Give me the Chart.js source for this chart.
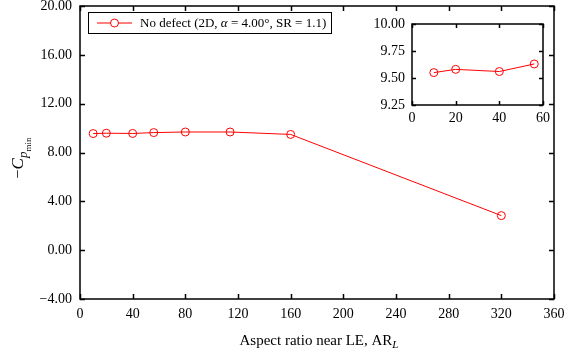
<!DOCTYPE html>
<html>
<head>
<meta charset="utf-8">
<script src="https://cdn.jsdelivr.net/npm/chart.js@4.4.1/dist/chart.umd.min.js"></script>
<style>
html,body{margin:0;padding:0;background:#fff;}
#wrap{position:relative;width:579px;height:354px;}
#main{position:absolute;left:0;top:0;}
#inset{position:absolute;left:368px;top:14px;}
</style>
</head>
<body>
<div id="wrap">
<canvas id="main" width="579" height="354"></canvas>
<canvas id="inset" width="190" height="116"></canvas>
</div>
<script>
// ---- data ----
const aspectRatio = [10, 20, 40, 56, 80, 114, 160, 320];
const cpMin = [9.55, 9.58, 9.56, 9.63, 9.68, 9.68, 9.48, 2.83];
const insetCount = 4;
const seriesLabel = 'No defect (2D, \u03b1 = 4.00\u00b0, SR = 1.1)';
const xTicksMain = [0, 40, 80, 120, 160, 200, 240, 280, 320, 360];
const yTicksMain = [-4, 0, 4, 8, 12, 16, 20];
const xTicksInset = [0, 20, 40, 60];
const yTicksInset = [9.25, 9.5, 9.75, 10];

const FONT = '"Liberation Serif", "Times New Roman", serif';
const RED = '#ff0000';
const fmt = v => (v < 0 ? '\u2212' + Math.abs(v).toFixed(2) : v.toFixed(2));

function pts(n) {
  const a = [];
  for (let i = 0; i < n; i++) a.push({x: aspectRatio[i], y: cpMin[i]});
  return a;
}

// frame + inward ticks on all four sides
const frameTicks = {
  id: 'frameTicks',
  afterDraw(chart, args, opts) {
    const {ctx, chartArea: a, scales: {x, y}} = chart;
    const L = opts.len || 5;
    ctx.save();
    ctx.strokeStyle = '#000';
    ctx.lineWidth = opts.width || 1.5;
    ctx.beginPath();
    x.ticks.forEach(t => {
      const px = Math.round(x.getPixelForValue(t.value)) + 0.5;
      ctx.moveTo(px, a.bottom); ctx.lineTo(px, a.bottom - L);
      ctx.moveTo(px, a.top); ctx.lineTo(px, a.top + L);
    });
    y.ticks.forEach(t => {
      const py = Math.round(y.getPixelForValue(t.value)) + 0.5;
      ctx.moveTo(a.left, py); ctx.lineTo(a.left + L, py);
      ctx.moveTo(a.right, py); ctx.lineTo(a.right - L, py);
    });
    ctx.stroke();
    ctx.strokeRect(a.left, a.top, a.right - a.left, a.bottom - a.top);
    ctx.restore();
  }
};

// legend box and axis titles for main chart
const mainDecor = {
  id: 'mainDecor',
  afterDraw(chart) {
    const {ctx, chartArea: a} = chart;
    ctx.save();
    // legend
    const bx = 88.5, by = 12.5, bw = 243, bh = 21;
    ctx.fillStyle = '#fff';
    ctx.fillRect(bx, by, bw, bh);
    ctx.strokeStyle = '#000';
    ctx.lineWidth = 1;
    ctx.strokeRect(bx, by, bw, bh);
    const cy = by + bh / 2;
    ctx.strokeStyle = RED;
    ctx.beginPath(); ctx.moveTo(97, cy); ctx.lineTo(132, cy); ctx.stroke();
    ctx.beginPath(); ctx.arc(114.5, cy, 4, 0, Math.PI * 2); ctx.fillStyle = '#fff'; ctx.fill(); ctx.stroke();
    ctx.fillStyle = '#000';
    ctx.textBaseline = 'middle';
    ctx.textAlign = 'left';
    const parts = seriesLabel.split('\u03b1');
    let tx = 140;
    ctx.font = '13px ' + FONT;
    ctx.fillText(parts[0], tx, cy + 1); tx += ctx.measureText(parts[0]).width;
    ctx.font = 'italic 13px ' + FONT;
    ctx.fillText('\u03b1', tx, cy + 1); tx += ctx.measureText('\u03b1').width;
    ctx.font = '13px ' + FONT;
    ctx.fillText(parts[1], tx, cy + 1);

    // x title
    ctx.textBaseline = 'alphabetic';
    const t1 = 'Aspect ratio near LE, AR';
    ctx.font = '15px ' + FONT;
    const w1 = ctx.measureText(t1).width;
    ctx.font = 'italic 11px ' + FONT;
    const w2 = ctx.measureText('L').width;
    let sx = (a.left + a.right) / 2 - (w1 + w2) / 2 + 2;
    ctx.font = '15px ' + FONT;
    ctx.fillText(t1, sx, 345);
    ctx.font = 'italic 11px ' + FONT;
    ctx.fillText('L', sx + w1, 348);

    // y title (rotated)
    ctx.translate(23, 158);
    ctx.rotate(-Math.PI / 2);
    const segs = [
      {t: '\u2212', f: '16px ' + FONT, dy: 0},
      {t: 'C', f: 'italic 17px ' + FONT, dy: 0},
      {t: 'p', f: 'italic 13px ' + FONT, dy: 4},
      {t: 'min', f: '9px ' + FONT, dy: 8}
    ];
    let tw = 0;
    segs.forEach(s => { ctx.font = s.f; s.w = ctx.measureText(s.t).width; tw += s.w; });
    let cx = -tw / 2;
    segs.forEach(s => { ctx.font = s.f; ctx.fillText(s.t, cx, s.dy); cx += s.w; });
    ctx.restore();
  }
};

Chart.defaults.font.family = FONT;
Chart.defaults.color = '#000';

const lineDs = n => ({
  label: seriesLabel,
  data: pts(n),
  borderColor: RED,
  backgroundColor: '#fff',
  borderWidth: 1,
  pointRadius: 4,
  pointBorderWidth: 1,
  pointBackgroundColor: 'rgba(255,255,255,0)',
  pointBorderColor: RED,
  tension: 0
});

const zeroPadX = s => { s.paddingLeft = 0; s.paddingRight = 0; };
const zeroPadY = s => { s.paddingTop = 0; s.paddingBottom = 0; };

new Chart(document.getElementById('main'), {
  type: 'line',
  data: {datasets: [lineDs(aspectRatio.length)]},
  options: {
    responsive: false, animation: false,
    layout: {padding: {left: 0, right: 25, top: 6, bottom: 0}},
    plugins: {legend: {display: false}, tooltip: {enabled: false}, frameTicks: {len: 5, width: 1.5}},
    scales: {
      x: {
        type: 'linear', min: 0, max: 360,
        afterBuildTicks: s => { s.ticks = xTicksMain.map(v => ({value: v})); },
        ticks: {font: {size: 14}, padding: 7, maxRotation: 0, callback: v => String(v)},
        grid: {display: false, drawTicks: false},
        border: {display: false},
        afterFit: s => { s.height = 55; zeroPadX(s); }
      },
      y: {
        type: 'linear', min: -4, max: 20,
        afterBuildTicks: s => { s.ticks = yTicksMain.map(v => ({value: v})); },
        ticks: {font: {size: 14}, padding: 8, callback: v => fmt(v)},
        grid: {display: false, drawTicks: false},
        border: {display: false},
        afterFit: s => { s.width = 80; zeroPadY(s); }
      }
    }
  },
  plugins: [frameTicks, mainDecor]
});

new Chart(document.getElementById('inset'), {
  type: 'line',
  data: {datasets: [lineDs(insetCount)]},
  options: {
    responsive: false, animation: false,
    layout: {padding: {left: 0, right: 15, top: 10, bottom: 0}},
    plugins: {legend: {display: false}, tooltip: {enabled: false}, frameTicks: {len: 4, width: 1.5}},
    scales: {
      x: {
        type: 'linear', min: 0, max: 60,
        afterBuildTicks: s => { s.ticks = xTicksInset.map(v => ({value: v})); },
        ticks: {font: {size: 14}, padding: 5, maxRotation: 0, callback: v => String(v)},
        grid: {display: false, drawTicks: false},
        border: {display: false},
        afterFit: s => { s.height = 25; zeroPadX(s); }
      },
      y: {
        type: 'linear', min: 9.25, max: 10,
        afterBuildTicks: s => { s.ticks = yTicksInset.map(v => ({value: v})); },
        ticks: {font: {size: 14}, padding: 7, callback: v => fmt(v)},
        grid: {display: false, drawTicks: false},
        border: {display: false},
        afterFit: s => { s.width = 44; zeroPadY(s); }
      }
    }
  },
  plugins: [frameTicks]
});
</script>
</body>
</html>
